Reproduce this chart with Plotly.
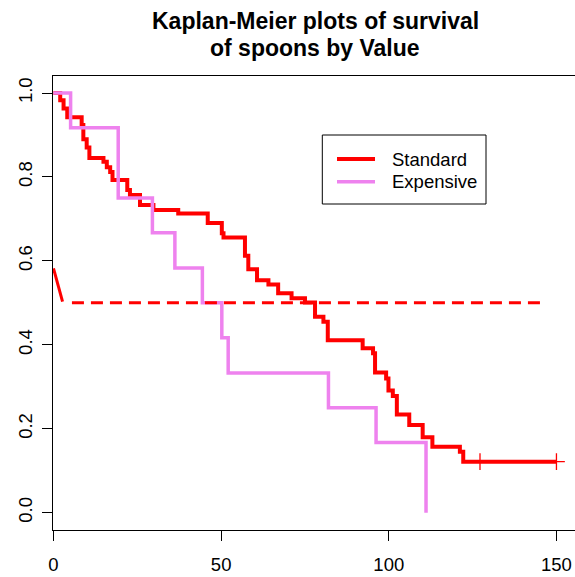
import plotly.graph_objects as go

# ---- data ----
std_time = [0, 2.0, 3.0, 4.1, 8.4, 8.9, 9.9, 10.7, 14.9, 15.9, 16.9, 17.6, 22.0, 22.8,
            25.8, 29.8, 37.2, 46.0, 50.2, 50.7, 57.1, 58.1, 60.7, 64.1, 67.0, 71.0,
            75.0, 78.0, 80.5, 81.8, 92.2, 95.3, 95.9, 99.2, 99.9, 101.2, 102.4, 106.1,
            110.1, 113.0, 121.2, 122.2, 150.0]
std_surv = [1.0, 0.983, 0.963, 0.942, 0.924, 0.89, 0.87, 0.845, 0.836, 0.823, 0.812, 0.793,
            0.769, 0.757, 0.733, 0.721, 0.713, 0.690, 0.666, 0.656, 0.612, 0.580, 0.554,
            0.544, 0.523, 0.511, 0.501, 0.467, 0.455, 0.411, 0.392, 0.380, 0.334, 0.320,
            0.291, 0.278, 0.234, 0.209, 0.180, 0.157, 0.145, 0.1215, 0.1215]
std_censor_time = [127.2, 150.0]
std_censor_surv = [0.1215, 0.1215]

exp_time = [0, 5.1, 19.3, 29.5, 36.2, 44.4, 50.2, 52.1, 82.0, 96.2, 111.1]
exp_surv = [1.0, 0.917, 0.75, 0.667, 0.583, 0.5, 0.417, 0.333, 0.25, 0.167, 0.0]

median_seg_x = [0, 2.7]
median_seg_y = [0.582, 0.503]
median_dash_x = [5.5, 145.4]
median_dash_y = [0.5, 0.5]

x_ticks = [0, 50, 100, 150]
y_ticks = [0.0, 0.2, 0.4, 0.6, 0.8, 1.0]
y_tick_labels = ["0.0", "0.2", "0.4", "0.6", "0.8", "1.0"]
series_names = ["Standard", "Expensive"]
title_lines = ["Kaplan-Meier plots of survival", "of spoons by Value"]

RED = "#FF0000"
PINK = "#EE82EE"
FONT = "Liberation Sans, Arial, sans-serif"

# plot-area geometry (pixels)
L, T, W, H = 53, 76, 522, 454
def pxx(x):
    return (x - L) / W
def pxy(y):
    return (T + H - y) / H

fig = go.Figure()
fig.add_trace(go.Scatter(x=std_time, y=std_surv, mode="lines", line_shape="hv",
                         line=dict(color=RED, width=4), showlegend=False))
fig.add_trace(go.Scatter(x=std_censor_time, y=std_censor_surv, mode="markers",
                         marker=dict(symbol="cross-thin", size=12,
                                     line=dict(color=RED, width=1.3), color=RED),
                         showlegend=False))
fig.add_trace(go.Scatter(x=exp_time, y=exp_surv, mode="lines", line_shape="hv",
                         line=dict(color=PINK, width=3.5), showlegend=False))
fig.add_trace(go.Scatter(x=median_seg_x, y=median_seg_y, mode="lines",
                         line=dict(color=RED, width=3), showlegend=False))
fig.add_trace(go.Scatter(x=median_dash_x, y=median_dash_y, mode="lines",
                         line=dict(color=RED, width=3, dash="12px,7px"), showlegend=False))

# manual legend
shapes = [dict(type="rect", xref="paper", yref="paper",
               x0=pxx(322.3), x1=pxx(486), y0=pxy(204), y1=pxy(135),
               line=dict(color="black", width=1), fillcolor="white", layer="above")]
annotations = []
for name, col, ly, lw in zip(series_names, [RED, PINK], [159, 181.7], [4, 3.5]):
    shapes.append(dict(type="line", xref="paper", yref="paper",
                       x0=pxx(337), x1=pxx(375), y0=pxy(ly), y1=pxy(ly),
                       line=dict(color=col, width=lw), layer="above"))
    annotations.append(dict(text=name, xref="paper", yref="paper", x=pxx(390),
                            y=pxy(ly), xanchor="left", yanchor="middle", showarrow=False,
                            font=dict(family=FONT, size=18.5, color="black")))

for line, yy in zip(title_lines, [21, 48]):
    annotations.append(dict(text="<b>" + line + "</b>", xref="paper", yref="paper",
                            x=pxx(315), y=pxy(yy), xanchor="center", yanchor="middle",
                            showarrow=False,
                            font=dict(family=FONT, size=23, color="black")))

fig.update_layout(
    width=575, height=577,
    margin=dict(l=L, r=0, t=T, b=577 - T - H, pad=0),
    paper_bgcolor="white", plot_bgcolor="white",
    shapes=shapes, annotations=annotations,
    xaxis=dict(range=[(L - 53.5) / 3.353, (575 - 53.5) / 3.353],
               tickmode="array", tickvals=x_ticks, ticktext=[str(v) for v in x_ticks],
               ticks="outside", ticklen=10, tickwidth=1, tickcolor="black",
               showline=True, linecolor="black", linewidth=1, mirror=True,
               showgrid=False, zeroline=False, ticklabelstandoff=8,
               tickfont=dict(family=FONT, size=18.5, color="black")),
    yaxis=dict(range=[(512.7 - (T + H)) / 419.7, (512.7 - T) / 419.7],
               tickmode="array", tickvals=y_ticks, ticktext=y_tick_labels,
               ticks="outside", ticklen=10, tickwidth=1, tickcolor="black",
               showline=True, linecolor="black", linewidth=1,
               showgrid=False, zeroline=False, tickangle=-90, ticklabelstandoff=3,
               tickfont=dict(family=FONT, size=18.5, color="black")),
)

fig.write_html("out.html")
